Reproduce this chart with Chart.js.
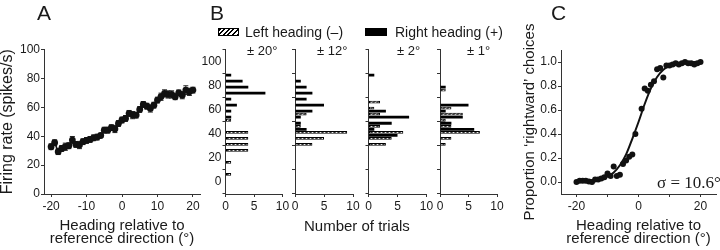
<!DOCTYPE html>
<html>
<head>
<meta charset="utf-8">
<script src="https://cdn.jsdelivr.net/npm/chart.js@4.4.1/dist/chart.umd.min.js"></script>
<style>
html,body{margin:0;padding:0;background:#fff;width:720px;height:250px;overflow:hidden;position:relative;}
canvas{position:absolute;top:0;}
.t{position:absolute;font-family:"Liberation Sans",Arial,sans-serif;color:#1a1a1a;white-space:nowrap;line-height:1;}
</style>
</head>
<body>
<canvas id="cA" width="210" height="250" style="left:0px"></canvas>
<canvas id="cB1" width="94" height="250" style="left:198px"></canvas>
<canvas id="cB2" width="79" height="250" style="left:283px"></canvas>
<canvas id="cB3" width="80" height="250" style="left:356px"></canvas>
<canvas id="cB4" width="79" height="250" style="left:428px"></canvas>
<canvas id="cC" width="230" height="250" style="left:490px"></canvas>

<div class="t" style="left:37px;top:2px;font-size:21px;">A</div>
<div class="t" style="left:210px;top:2px;font-size:21px;">B</div>
<div class="t" style="left:551px;top:2px;font-size:21px;">C</div>

<div style="position:absolute;left:218px;top:28px;width:19px;height:6px;border:1px solid #000;background:repeating-linear-gradient(-45deg,#000 0 1.4px,#fff 1.4px 3.2px);"></div>
<div class="t" style="left:245px;top:25px;font-size:14px;">Left heading (–)</div>
<div style="position:absolute;left:365px;top:28px;width:22px;height:8px;background:#000;"></div>
<div class="t" style="left:395px;top:25px;font-size:14px;">Right heading (+)</div>

<div class="t" style="left:247px;top:44px;font-size:13px;">± 20°</div>
<div class="t" style="left:317px;top:44px;font-size:13px;">± 12°</div>
<div class="t" style="left:397px;top:44px;font-size:13px;">± 2°</div>
<div class="t" style="left:467px;top:44px;font-size:13px;">± 1°</div>

<div class="t" style="left:304px;top:218px;font-size:15px;">Number of trials</div>
<div class="t" style="left:657px;top:174px;font-size:17px;font-family:'Liberation Serif','Times New Roman',serif;">σ = 10.6°</div>

<script>
// ---------- Panel A: firing rate vs heading ----------
const headingA = [-20,-19,-18,-17,-16,-15,-14,-13,-12,-11,-10,-9,-8,-7,-6,-5,-4,-3,-2,-1,0,1,2,3,4,5,6,7,8,9,10,11,12,13,14,15,16,17,18,19,20];
const firingRate = [32.7,35.5,29.3,31.5,32.7,33.4,37.3,34.3,33.9,36.2,37.1,37.8,38.9,39.4,40.5,44.2,44.2,45.9,45.0,48.8,51.2,52.3,55.8,54.6,54.6,58.5,62.0,60.8,59.2,61.5,65.0,67.3,69.6,68.9,68.9,67.3,70.0,68.4,71.9,70.7,71.9];
const firingSem = [2,2,2,2,2.5,2,2.5,2,2.5,2,2,2,2,2,1.5,2,2,2,2.5,2,2,2,2,2.5,2,2,2,2,2.5,2,2,2.5,2.5,2.5,2.5,2,2,2.5,3,2.5,2];
const ticksAx = [-20,-10,0,10,20];
const ticksRate = [0,20,40,60,80,100];

// ---------- Panel B: histograms of firing rate (bins of 5 spikes/s) ----------
const binCenters = [2.5,7.5,12.5,17.5,22.5,27.5,32.5,37.5,42.5,47.5,52.5,57.5,62.5,67.5,72.5,77.5,82.5,87.5,92.5,97.5];
const countTicks = [0,5,10];
const b20Right = [0,0,0,0,0,0,0,0,0,0,1,1,2,1,7,4,3,1,0,0];
const b20Left  = [0,1,0,1,0,4,4,4,4,0,1,0,0,0,0,0,0,0,0,0];
const b12Right = [0,0,0,0,0,0,0,0,2,1,1,3,5,2,3,2,1,0,0,0];
const b12Left  = [0,0,0,0,0,0,3,5,9,1,0,2,0,0,0,0,0,0,0,0];
const b2Right  = [0,0,0,0,0,0,0,5,1,4,7,3,0,0,0,0,0,1,0,0];
const b2Left   = [0,0,0,0,0,0,3,4,6,2,0,2,1,2,0,0,0,0,0,0];
const b1Right  = [0,0,0,0,0,0,0,0,6,2,4,1,5,0,0,1,0,0,0,0];
const b1Left   = [0,0,0,0,0,0,1,2,7,2,1,4,2,0,0,1,0,0,0,0];

// ---------- Panel C: psychometric data ----------
const headingC = [-20,-19,-18,-17,-16,-15,-14,-13,-12,-11,-10,-9,-8,-7,-6,-5,-4,-3,-2,-1,1,2,3,4,5,6,7,8,9,10,11,12,13,14,15,16,17,18,19,20];
const propRight = [0.00,0.01,0.01,0.01,0.005,0.00,0.02,0.02,0.03,0.04,0.07,0.05,0.13,0.05,0.06,0.15,0.18,0.21,0.23,0.40,0.61,0.78,0.76,0.81,0.84,0.94,0.95,0.87,0.97,0.97,0.98,0.99,0.98,0.99,1.00,0.99,0.99,0.98,0.99,1.00];
const fitX = [-20,-18,-16,-14,-12,-10,-8,-6,-4,-2,0,2,4,6,8,10,12,14,16,18,20];
const fitY = [0.003,0.005,0.008,0.014,0.025,0.045,0.08,0.14,0.23,0.36,0.50,0.65,0.78,0.875,0.935,0.968,0.985,0.993,0.997,0.999,1.0];
const ticksCx = [-20,-10,0,10,20];
const ticksCy = [0,0.1,0.2,0.3,0.4,0.5,0.6,0.7,0.8,0.9,1.0];

// ---------- helpers ----------
Chart.defaults.font.family = '"Liberation Sans", Arial, sans-serif';
Chart.defaults.color = '#1a1a1a';
const AX = '#333';
const fixW = w => s => { s.width = w; };
const fixH = h => s => { s.height = h; };
const setTicks = arr => s => { s.ticks = arr.map(v => ({ value: v })); };
const gridOpts = { drawOnChartArea: false, drawTicks: true, tickLength: 3, color: AX, lineWidth: 1 };
const borderOpts = { display: true, color: AX, width: 1 };
const common = {
  responsive: false, animation: false, events: [],
  plugins: { legend: { display: false }, tooltip: { enabled: false } }
};

function makeHatch() {
  const c = document.createElement('canvas');
  c.width = 4; c.height = 4;
  const g = c.getContext('2d');
  g.fillStyle = '#fff'; g.fillRect(0, 0, 4, 4);
  g.strokeStyle = '#000'; g.lineWidth = 1.6;
  g.beginPath();
  g.moveTo(0, 4); g.lineTo(4, 0);
  g.moveTo(-1, 1); g.lineTo(1, -1);
  g.moveTo(3, 5); g.lineTo(5, 3);
  g.stroke();
  return g.createPattern(c, 'repeat');
}
const hatch = makeHatch();

// error bar plugin for panel A
const errorBars = {
  id: 'errorBars',
  beforeDatasetsDraw(chart) {
    const { ctx, scales: { x, y } } = chart;
    ctx.save();
    ctx.strokeStyle = '#222'; ctx.lineWidth = 1;
    headingA.forEach((h, i) => {
      const px = x.getPixelForValue(h);
      const t = y.getPixelForValue(firingRate[i] + firingSem[i]);
      const b = y.getPixelForValue(firingRate[i] - firingSem[i]);
      ctx.beginPath();
      ctx.moveTo(px, t); ctx.lineTo(px, b);
      ctx.moveTo(px - 2.5, t); ctx.lineTo(px + 2.5, t);
      ctx.moveTo(px - 2.5, b); ctx.lineTo(px + 2.5, b);
      ctx.stroke();
    });
    ctx.restore();
  }
};

// ---------- Panel A ----------
new Chart(document.getElementById('cA'), {
  type: 'line',
  data: { datasets: [{
    data: headingA.map((h, i) => ({ x: h, y: firingRate[i] })),
    borderColor: '#111', borderWidth: 1.6, tension: 0,
    pointRadius: 3.4, pointBackgroundColor: '#111', pointBorderWidth: 0
  }] },
  options: Object.assign({}, common, {
    layout: { padding: { top: 49.5, right: 10, bottom: 0, left: 0 } },
    scales: {
      x: {
        type: 'linear', min: -22, max: 22,
        afterBuildTicks: setTicks(ticksAx), afterFit: fixH(56),
        grid: gridOpts, border: borderOpts,
        ticks: { font: { size: 12 }, padding: 2, maxRotation: 0, autoSkip: false },
        title: { display: true, text: ['Heading relative to', 'reference direction (°)'],
                 font: { size: 15, lineHeight: '13px' }, padding: { top: 0, bottom: 5 } }
      },
      y: {
        type: 'linear', min: 0, max: 100,
        afterBuildTicks: setTicks(ticksRate), afterFit: fixW(44),
        grid: gridOpts, border: borderOpts,
        ticks: { font: { size: 12 }, padding: 1 },
        title: { display: true, text: 'Firing rate (spikes/s)', font: { size: 16, lineHeight: '15px' }, padding: 0 }
      }
    }
  }),
  plugins: [errorBars]
});

// ---------- Panel B ----------
function hist(id, rightCounts, leftCounts, yW, rightPad, labels) {
  new Chart(document.getElementById(id), {
    type: 'bar',
    data: { datasets: [
      { label: 'Right heading (+)',
        data: binCenters.map((c, i) => ({ y: c, x: rightCounts[i] || null })),
        backgroundColor: '#000', borderWidth: 0 },
      { label: 'Left heading (–)',
        data: binCenters.map((c, i) => ({ y: c, x: leftCounts[i] || null })),
        backgroundColor: hatch, borderColor: '#000', borderWidth: 1, borderSkipped: false }
    ] },
    options: Object.assign({}, common, {
      indexAxis: 'y',
      datasets: { bar: { categoryPercentage: 1, barPercentage: 0.92 } },
      layout: { padding: { top: 49.5, right: rightPad, bottom: 0, left: 0 } },
      scales: {
        x: {
          type: 'linear', min: 0, max: 10,
          afterBuildTicks: setTicks(countTicks), afterFit: fixH(56),
          grid: gridOpts, border: borderOpts,
          ticks: { font: { size: 12 }, padding: 2, maxRotation: 0, autoSkip: false }
        },
        y: {
          type: 'linear', min: 0, max: 100,
          afterBuildTicks: setTicks(ticksRate), afterFit: fixW(yW),
          grid: gridOpts, border: borderOpts,
          ticks: { font: { size: 12 }, padding: 1, callback: v => labels ? String(v) : '' }
        }
      }
    })
  });
}
hist('cB1', b20Right, b20Left, 27.5, 9.5, true);
hist('cB2', b12Right, b12Left, 12, 9, false);
hist('cB3', b2Right, b2Left, 12.5, 9.5, false);
hist('cB4', b1Right, b1Left, 12, 10, false);

// ---------- Panel C ----------
new Chart(document.getElementById('cC'), {
  type: 'scatter',
  data: { datasets: [
    { type: 'line', data: fitX.map((x, i) => ({ x: x, y: fitY[i] })),
      borderColor: '#111', borderWidth: 2, pointRadius: 0, cubicInterpolationMode: 'monotone' },
    { data: headingC.map((x, i) => ({ x: x, y: propRight[i] })),
      pointRadius: 3, pointBackgroundColor: '#111', pointBorderWidth: 0, showLine: false }
  ] },
  options: Object.assign({}, common, {
    layout: { padding: { top: 50, right: 2.75, bottom: 0, left: 0 } },
    scales: {
      x: {
        type: 'linear', min: -25, max: 25,
        afterBuildTicks: setTicks(ticksCx), afterFit: fixH(56),
        grid: gridOpts, border: borderOpts,
        ticks: { font: { size: 12 }, padding: 2, maxRotation: 0, autoSkip: false,
                 callback: v => (v % 20 === 0 ? String(v) : '') },
        title: { display: true, text: ['Heading relative to', 'reference direction (°)'],
                 font: { size: 15, lineHeight: '13px' }, padding: { top: 0, bottom: 5 } }
      },
      y: {
        type: 'linear', min: -0.1, max: 1.1,
        afterBuildTicks: setTicks(ticksCy), afterFit: fixW(71),
        grid: gridOpts, border: borderOpts,
        ticks: { font: { size: 12 }, padding: 1,
                 callback: v => (Math.round(v * 10) % 2 === 0 ? v.toFixed(1) : '') },
        title: { display: true, text: "Proportion ‘rightward’ choices",
                 font: { size: 15, lineHeight: '18px' }, padding: { top: 31, bottom: 0 } }
      }
    }
  })
});
</script>
</body>
</html>
